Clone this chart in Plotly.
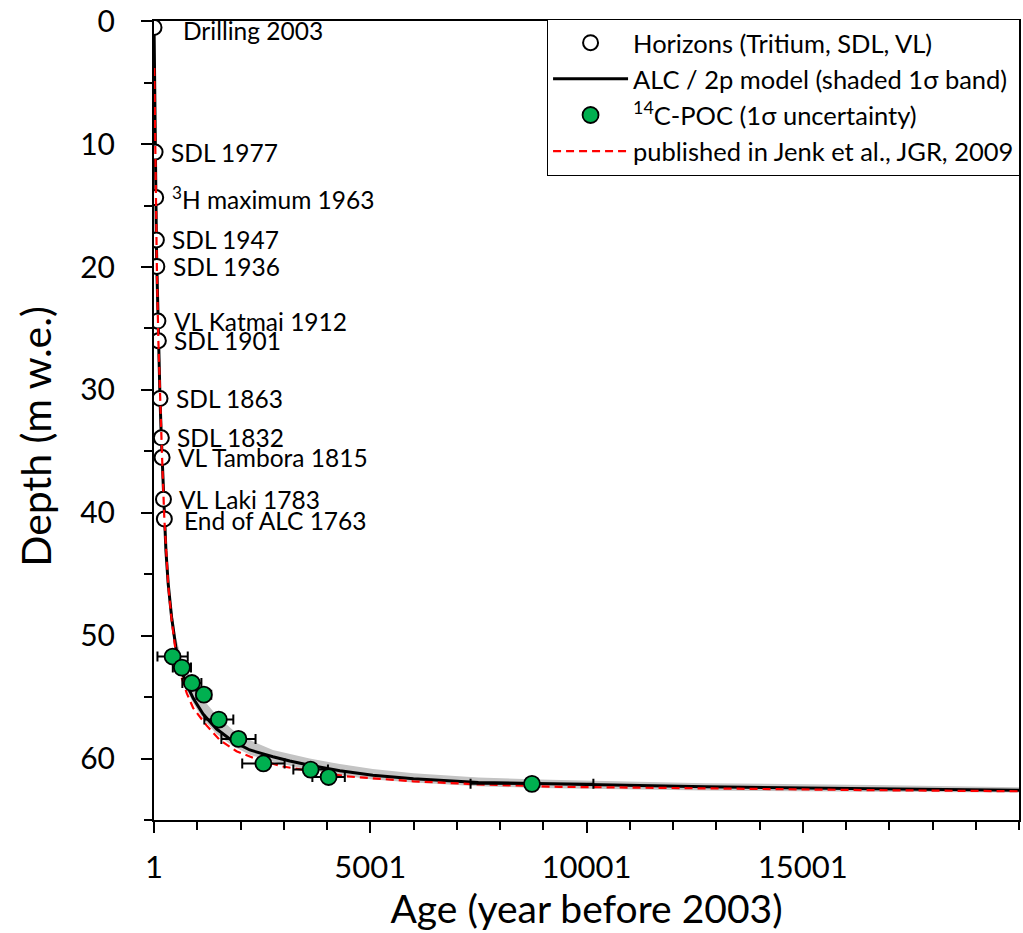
import plotly.graph_objects as go

# Dated horizons: age (years before 2003) and depth (m w.e.)
horizon_labels = ["Drilling 2003", "SDL 1977", "<sup>3</sup>H maximum 1963", "SDL 1947",
                  "SDL 1936", "VL Katmai 1912", "SDL 1901", "SDL 1863", "SDL 1832",
                  "VL Tambora 1815", "VL Laki 1783", "End of ALC 1763"]
horizon_age = [1, 26, 40, 56, 67, 91, 102, 140, 171, 188, 220, 240]
horizon_depth = [0.5, 10.65, 14.35, 17.8, 19.95, 24.4, 26.0, 30.7, 33.9, 35.5, 38.9, 40.5]

# 14C dates of particulate organic carbon with 1-sigma age uncertainty
poc_age = [431, 646, 877, 1154, 1500, 1954, 2531, 3623, 4038, 8740]
poc_err = [350, 210, 220, 170, 335, 395, 490, 400, 375, 1420]
poc_depth = [51.7, 52.6, 53.85, 54.8, 56.83, 58.4, 60.4, 60.9, 61.5, 62.06]

# ALC / 2p age-depth model with its 1-sigma band
model_age = [1, 26, 40, 56, 67, 91, 102, 140, 171, 188, 220, 240, 277, 330, 408, 508,
             640, 760, 908, 1140, 1450, 1830, 2215, 2750, 3140, 3600, 4300, 5060, 6000,
             7500, 8900, 12750, 16600, 20001]
model_depth = [0.0, 10.65, 14.4, 17.8, 20.0, 24.4, 26.0, 30.7, 33.9, 35.5, 38.9, 40.5,
               43.1, 45.8, 48.5, 51.0, 52.9, 54.0, 55.1, 56.4, 57.6, 58.6, 59.3, 59.85,
               60.2, 60.55, 61.0, 61.35, 61.65, 61.95, 62.05, 62.3, 62.45, 62.58]
band_upper = [0.0, 10.25, 14.0, 17.4, 19.6, 24.0, 25.6, 30.3, 33.5, 35.1, 38.5, 40.0,
              42.5, 45.1, 47.7, 50.1, 51.9, 52.9, 53.9, 55.2, 56.5, 57.7, 58.5, 59.3,
              59.65, 60.0, 60.45, 60.85, 61.2, 61.55, 61.7, 62.0, 62.15, 62.33]
band_lower = [0.4, 11.05, 14.8, 18.2, 20.4, 24.8, 26.4, 31.1, 34.3, 35.9, 39.3, 40.9,
              43.5, 46.2, 48.9, 51.4, 53.3, 54.4, 55.5, 56.8, 58.0, 59.0, 59.7, 60.25,
              60.6, 60.95, 61.35, 61.7, 61.95, 62.25, 62.4, 62.6, 62.7, 62.76]

# Age-depth relation published in Jenk et al., JGR, 2009
jenk_age = [8, 26, 40, 67, 102, 140, 188, 240, 277, 330, 408, 500, 640, 760, 908, 1060,
            1215, 1523, 1908, 2370, 2985, 3600, 4450, 6000, 7500, 9370, 12750, 16600, 20001]
jenk_depth = [3.8, 10.65, 14.4, 20.0, 26.0, 30.7, 35.5, 40.5, 43.1, 45.9, 48.7, 51.2,
              53.4, 54.7, 55.9, 56.6, 57.3, 58.5, 59.4, 60.05, 60.65, 61.0, 61.45, 61.85,
              62.1, 62.3, 62.45, 62.57, 62.66]

x_ticks = [1, 5001, 10001, 15001]
y_ticks = [0, 10, 20, 30, 40, 50, 60]

FONT = "Lato, 'Open Sans', sans-serif"

fig = go.Figure()

# shaded 1-sigma band
fig.add_trace(go.Scatter(x=model_age, y=band_upper, mode="lines", line=dict(width=0),
                         hoverinfo="skip", showlegend=False))
fig.add_trace(go.Scatter(x=model_age, y=band_lower, mode="lines", line=dict(width=0),
                         fill="tonexty", fillcolor="#C4C4C4", hoverinfo="skip",
                         showlegend=False))

fig.add_trace(go.Scatter(x=model_age, y=model_depth, mode="lines",
                         line=dict(color="black", width=3),
                         name="ALC / 2p model (shaded 1σ band)", legendrank=2))

fig.add_trace(go.Scatter(x=horizon_age, y=horizon_depth, mode="markers",
                         marker=dict(symbol="circle", size=15, color="white",
                                     line=dict(color="black", width=2)),
                         name="Horizons (Tritium, SDL, VL)", legendrank=1))

fig.add_trace(go.Scatter(x=jenk_age, y=jenk_depth, mode="lines",
                         line=dict(color="#FF0000", width=2.2, dash="8px,5px"),
                         name="published in Jenk et al., JGR, 2009", legendrank=4))

fig.add_trace(go.Scatter(x=poc_age, y=poc_depth, mode="markers",
                         marker=dict(symbol="circle", size=16, color="#00B050",
                                     line=dict(color="black", width=1.8)),
                         error_x=dict(type="data", array=poc_err, visible=True,
                                      color="black", thickness=2, width=5),
                         name="<sup>14</sup>C-POC (1σ uncertainty)", legendrank=3))

# horizon names beside the circles (extra nudge for a few labels)
label_dx = {0: 27, 11: 18}
label_dy = {0: -3, 11: -2}
for i, (lab, a, d) in enumerate(zip(horizon_labels, horizon_age, horizon_depth)):
    fig.add_annotation(x=a, y=d, text=lab, showarrow=False, xanchor="left",
                       yanchor="middle", xshift=label_dx.get(i, 14),
                       yshift=label_dy.get(i, 0),
                       font=dict(family=FONT, size=24.5, color="black"))

# vertical axis title
fig.add_annotation(text="Depth (m w.e.)", xref="paper", yref="paper",
                   x=-0.1373, y=0.48, xanchor="center", yanchor="middle",
                   textangle=-90, showarrow=False,
                   font=dict(family=FONT, size=41, color="black"))

fig.update_xaxes(range=[1, 20001], tickvals=x_ticks, ticktext=[str(v) for v in x_ticks],
                 ticks="outside", ticklen=11, tickwidth=2, tickcolor="black",
                 minor=dict(tick0=1, dtick=1000, ticks="outside", ticklen=8,
                            tickwidth=2, tickcolor="black"),
                 showline=True, linewidth=2, linecolor="black", mirror=True,
                 showgrid=False, zeroline=False, ticklabelstandoff=8,
                 tickfont=dict(family=FONT, size=31, color="black"),
                 title=dict(text="Age (year before 2003)", standoff=8,
                            font=dict(family=FONT, size=39, color="black")))
fig.update_yaxes(range=[65, -0.02], tickvals=y_ticks, ticktext=[str(v) for v in y_ticks],
                 ticks="outside", ticklen=11, tickwidth=2, tickcolor="black",
                 minor=dict(tick0=0, dtick=5, ticks="outside", ticklen=8,
                            tickwidth=2, tickcolor="black"),
                 showline=True, linewidth=2, linecolor="black", mirror=True,
                 showgrid=False, zeroline=False, ticklabelstandoff=20,
                 ticklabeloverflow="allow",
                 tickfont=dict(family=FONT, size=30, color="black"))

fig.update_layout(
    width=1023, height=933,
    margin=dict(l=154, r=2, t=20, b=113),
    paper_bgcolor="white", plot_bgcolor="white",
    font=dict(family=FONT, color="black"),
    legend=dict(x=0.4544, y=1.003, xanchor="left", yanchor="top", traceorder="normal",
                bgcolor="white", bordercolor="black", borderwidth=1,
                font=dict(family=FONT, size=25.5, color="black"),
                itemwidth=75, tracegroupgap=0),
)

fig.write_html("out.html")
